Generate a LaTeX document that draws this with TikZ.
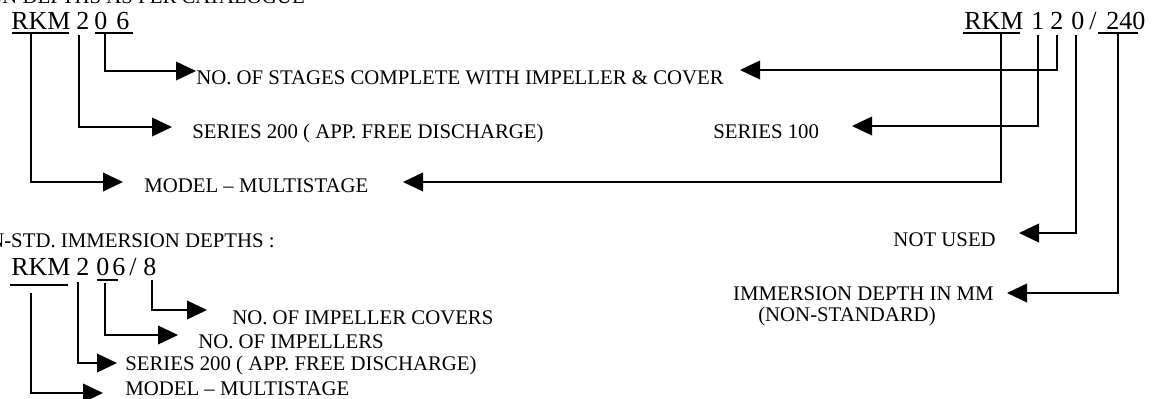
\documentclass[tikz,border=0pt]{standalone}
\usepackage{fontspec}
\setmainfont{Liberation Serif}
\usetikzlibrary{arrows.meta}
\begin{document}
\begin{tikzpicture}[x=0.75pt,y=-0.75pt,
  lbl/.style={inner sep=0pt,font=\fontsize{15.6}{18}\selectfont},
  code/.style={inner sep=0pt,font=\fontsize{19.5}{23}\selectfont},
  conn/.style={line width=1.2pt,-{Triangle[length=15pt,width=14pt]}},
  uline/.style={line width=1.1pt}]
\useasboundingbox (0,0) rectangle (1152,399);
\clip (0,0) rectangle (1152,399);

% cut-off title
\node[lbl,anchor=base east] (title) at (305,4) {IMMERSION DEPTHS AS PER CATALOGUE};

% ---------- top left code ----------
\node[code,anchor=base west] (aRKM) at (11,30) {RKM};
\node[code,anchor=base west] (a2) at (76,30) {2};
\node[code,anchor=base west] (a0) at (94,30) {0};
\node[code,anchor=base west] (a6) at (116,30) {6};
\draw[uline] (12,33) -- (69,33);
\draw[uline] (95,33) -- (133,33);
\coordinate (sA1) at (31,33);
\coordinate (sA2) at (79,35);
\coordinate (sA3) at (105,33);

\node[lbl,anchor=base west] (stages) at (196,85) {NO. OF STAGES COMPLETE WITH IMPELLER \& COVER};
\node[lbl,anchor=base west] (ser200) at (192,139) {SERIES 200 ( APP. FREE DISCHARGE)};
\node[lbl,anchor=base west] (model) at (144,192) {MODEL – MULTISTAGE};
\coordinate (tA3) at (196,71);
\coordinate (tA2) at (172,127);
\coordinate (tA1) at (123,182);
\draw[conn] (sA3) |- (tA3);
\draw[conn] (sA2) |- (tA2);
\draw[conn] (sA1) |- (tA1);

% ---------- top right code ----------
\node[code,anchor=base west] (bRKM) at (964,30) {RKM};
\node[code,anchor=base west] (b1) at (1031,30) {1};
\node[code,anchor=base west] (b2) at (1050,30) {2};
\node[code,anchor=base west] (b0) at (1071,30) {0};
\node[code,anchor=base west] (bs) at (1089,30) {/};
\node[code,anchor=base west] (b240) at (1106,30) {240};
\draw[uline] (963,33) -- (1020,33);
\draw[uline] (1098,33) -- (1138,33);
\coordinate (sB1) at (1001,33);
\coordinate (sB2) at (1038,35);
\coordinate (sB3) at (1057,35);
\coordinate (sB4) at (1076,35);
\coordinate (sB5) at (1118,33);

\node[lbl,anchor=base west] (ser100) at (713,139) {SERIES 100};
\node[lbl,anchor=base east] (notused) at (996,246) {NOT USED};
\node[lbl,anchor=base east] (immer) at (994,300) {IMMERSION DEPTH IN MM};
\node[lbl,anchor=base west] (nonstd) at (758,321) {(NON-STANDARD)};
\coordinate (tB3) at (740,70);
\coordinate (tB2) at (852,126);
\coordinate (tB1) at (403,182);
\coordinate (tB4) at (1019,233);
\coordinate (tB5) at (1007,293);
\draw[conn] (sB3) |- (tB3);
\draw[conn] (sB2) |- (tB2);
\draw[conn] (sB1) |- (tB1);
\draw[conn] (sB4) |- (tB4);
\draw[conn] (sB5) |- (tB5);

% ---------- bottom left code ----------
\node[lbl,anchor=base east] (nstd) at (275,247) {NON-STD. IMMERSION DEPTHS :};
\node[code,anchor=base west] (cRKM) at (11,275) {RKM};
\node[code,anchor=base west] (c2) at (76,275) {2};
\node[code,anchor=base west] (c0) at (96,275) {0};
\node[code,anchor=base west] (c6) at (112,275) {6};
\node[code,anchor=base west] (cs) at (129,275) {/};
\node[code,anchor=base west] (c8) at (143,275) {8};
\draw[uline] (10,285) -- (68,285);
\draw[uline] (97,280) -- (118,280);
\coordinate (sC1) at (31,293);
\coordinate (sC2) at (78,282);
\coordinate (sC3) at (105,283);
\coordinate (sC4) at (152,280);

\node[lbl,anchor=base west] (covers) at (232,324) {NO. OF IMPELLER COVERS};
\node[lbl,anchor=base west] (imps) at (198,348) {NO. OF IMPELLERS};
\node[lbl,anchor=base west] (ser200b) at (125,370) {SERIES 200 ( APP. FREE DISCHARGE)};
\node[lbl,anchor=base west] (modelb) at (125,395) {MODEL – MULTISTAGE};
\coordinate (tC4) at (207,310);
\coordinate (tC3) at (178,335);
\coordinate (tC2) at (117,363);
\coordinate (tC1) at (103,393);
\draw[conn] (sC4) |- (tC4);
\draw[conn] (sC3) |- (tC3);
\draw[conn] (sC2) |- (tC2);
\draw[conn] (sC1) |- (tC1);
\end{tikzpicture}
\end{document}
